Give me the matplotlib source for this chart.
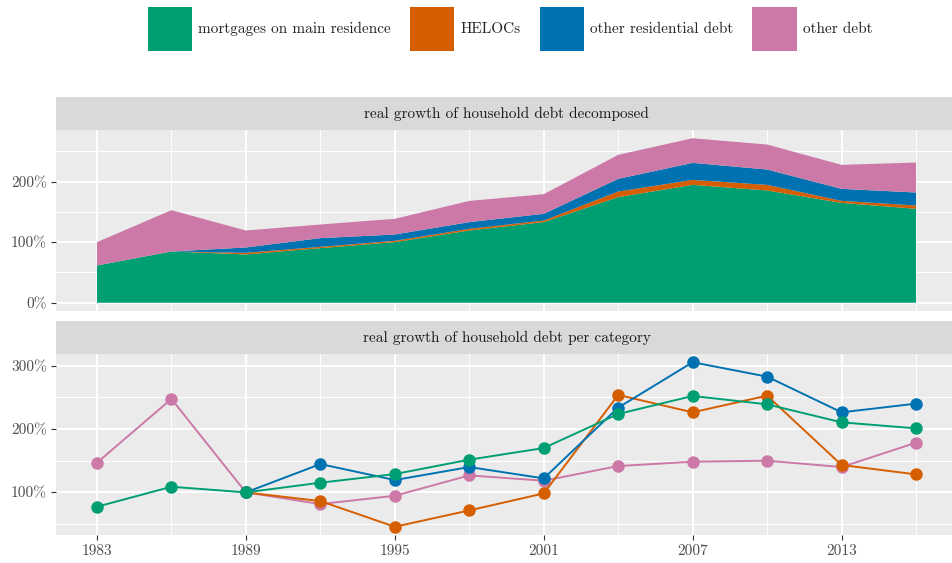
import numpy as np
import matplotlib
matplotlib.use("Agg")
from matplotlib import pyplot as plt
from matplotlib.patches import Patch
from matplotlib.ticker import FixedLocator

plt.rcParams['font.family'] = ['cmr10', 'DejaVu Serif']
plt.rcParams['axes.formatter.use_mathtext'] = True

# survey years
years = [1983, 1986, 1989, 1992, 1995, 1998, 2001, 2004, 2007, 2010, 2013, 2016]
categories = ['mortgages on main residence', 'HELOCs', 'other residential debt', 'other debt']
colors = ['#009E73', '#D55E00', '#0072B2', '#CC79A7']

# top panel: contribution of each category to total debt (1989 total = 100%)
mortgage_share = [61.5, 84.6, 79.7, 90.1, 100.0, 119.2, 133.0, 174.2, 194.5, 185.2, 164.8, 155.0]
heloc_share = [0.0, 0.0, 2.7, 2.2, 2.2, 2.8, 2.7, 9.3, 8.2, 9.3, 3.3, 5.4]
other_res_share = [0.0, 0.0, 8.8, 14.3, 10.4, 11.0, 11.0, 20.9, 28.1, 25.3, 19.8, 21.5]
other_debt_share = [38.5, 68.1, 28.0, 22.5, 25.9, 35.0, 32.4, 39.6, 40.6, 41.2, 39.6, 49.4]

# bottom panel: growth per category (1989 = 100%)
mortgage_growth = [77.4, 108.9, 100, 115.3, 128.9, 151.6, 170.0, 223.7, 252.1, 238.9, 210.5, 201.0]
heloc_growth = [np.nan, np.nan, 100, 86.3, 45.8, 71.6, 98.4, 253.7, 226.3, 252.6, 143.2, 128.4]
other_res_growth = [np.nan, np.nan, 100, 144.7, 119.5, 140.0, 122.1, 233.7, 305.3, 282.6, 226.3, 240.0]
other_debt_growth = [146.8, 247.4, 100, 81.6, 94.7, 126.8, 118.4, 141.6, 148.4, 150.0, 140.0, 178.4]

x_breaks = [1983, 1989, 1995, 2001, 2007, 2013]
x_minor = [1986, 1992, 1998, 2004, 2010, 2016]

W, H = 953, 563
fig = plt.figure(figsize=(W / 100, H / 100), dpi=100)

def box(x0, y0, x1, y1):
    return [x0 / W, 1 - y1 / H, (x1 - x0) / W, (y1 - y0) / H]

def style_panel(ax, ymajor, yminor, ylim):
    ax.set_facecolor('#EBEBEB')
    for s in ax.spines.values():
        s.set_visible(False)
    ax.set_xlim(1981.35, 2017.65)
    ax.set_ylim(*ylim)
    ax.xaxis.set_major_locator(FixedLocator(x_breaks))
    ax.xaxis.set_minor_locator(FixedLocator(x_minor))
    ax.yaxis.set_major_locator(FixedLocator(ymajor))
    ax.yaxis.set_minor_locator(FixedLocator(yminor))
    ax.set_yticklabels([f'{v}%' for v in ymajor])
    ax.grid(which='major', color='white', linewidth=1.4)
    ax.grid(which='minor', color='white', linewidth=0.7)
    ax.set_axisbelow(True)
    ax.tick_params(which='major', length=3.5, width=0.8, color='#333333',
                   labelsize=11, labelcolor='#4D4D4D', pad=3)
    ax.tick_params(which='minor', length=0)

def strip(x0, y0, x1, y1, label):
    s = fig.add_axes(box(x0, y0, x1, y1))
    s.set_facecolor('#D9D9D9')
    s.set_xticks([])
    s.set_yticks([])
    for sp in s.spines.values():
        sp.set_visible(False)
    s.text(0.5, 0.5, label, ha='center', va='center', fontsize=11, color='#1A1A1A',
           transform=s.transAxes)

# top panel: stacked area
strip(56, 97, 957, 130, 'real growth of household debt decomposed')
ax1 = fig.add_axes(box(56, 130, 957, 311))
ax1.stackplot(years, mortgage_share, heloc_share, other_res_share, other_debt_share,
              colors=colors, linewidth=0)
style_panel(ax1, [0, 100, 200], [50, 150, 250], (-13.6, 285))
ax1.set_xticklabels([])
ax1.tick_params(axis='x', which='major', length=0)

# bottom panel: lines with points
strip(56, 321, 957, 354, 'real growth of household debt per category')
ax2 = fig.add_axes(box(56, 354, 957, 535))
series = [mortgage_growth, heloc_growth, other_res_growth, other_debt_growth]
zorders = [5, 3, 4, 2]
for vals, c, z in zip(series, colors, zorders):
    ax2.plot(years, vals, color=c, linewidth=1.4, marker='o', markersize=9,
             markeredgewidth=0, zorder=z)
style_panel(ax2, [100, 200, 300], [50, 150, 250], (32.8, 318.3))
ax2.set_xticklabels([str(y) for y in x_breaks])

# legend on top
handles = [Patch(facecolor=c, edgecolor='none', label=l) for c, l in zip(colors, categories)]
leg = fig.legend(handles=handles, loc='center', bbox_to_anchor=(510 / W, 1 - 29 / H), ncol=4,
                 frameon=False, fontsize=11, handlelength=2.9, handleheight=4.0,
                 handletextpad=0.4, columnspacing=1.25, borderpad=0)
for t in leg.get_texts():
    t.set_color('#222222')

fig.savefig('out.png', dpi=100)
